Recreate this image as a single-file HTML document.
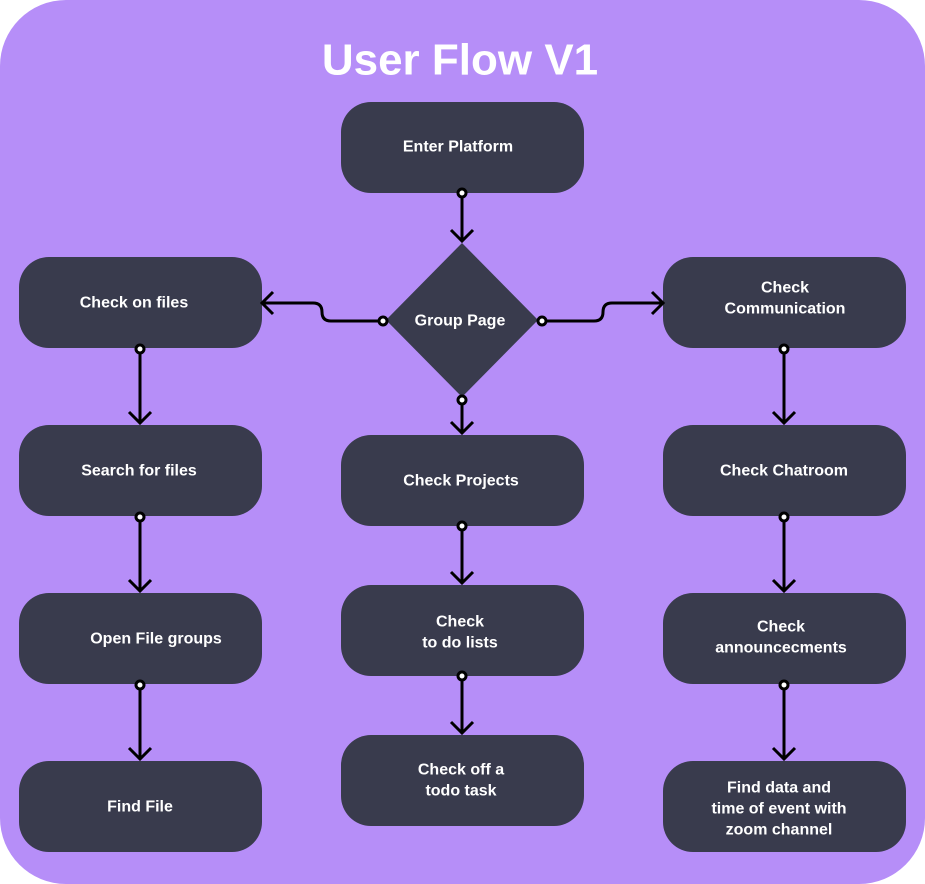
<!DOCTYPE html>
<html><head><meta charset="utf-8"><style>
html,body{margin:0;padding:0;background:#fff;}
svg{display:block;}
text{font-family:"Liberation Sans",sans-serif;font-weight:bold;fill:#fff;font-size:16px;text-anchor:middle;dominant-baseline:central;}
</style></head><body>
<svg width="925" height="884" viewBox="0 0 925 884" xmlns="http://www.w3.org/2000/svg">
<rect x="0" y="0" width="925" height="884" rx="66" fill="#b68ef8"/>
<text x="460" y="60" style="font-size:44px">User Flow V1</text>
<g fill="#393b4d">
<rect x="341" y="102" width="243" height="91" rx="30"/>
<rect x="19" y="257" width="243" height="91" rx="30"/>
<rect x="663" y="257" width="243" height="91" rx="30"/>
<rect x="19" y="425" width="243" height="91" rx="30"/>
<rect x="663" y="425" width="243" height="91" rx="30"/>
<rect x="19" y="593" width="243" height="91" rx="30"/>
<rect x="663" y="593" width="243" height="91" rx="30"/>
<rect x="19" y="761" width="243" height="91" rx="30"/>
<rect x="663" y="761" width="243" height="91" rx="30"/>
<rect x="341" y="435" width="243" height="91" rx="30"/>
<rect x="341" y="585" width="243" height="91" rx="30"/>
<rect x="341" y="735" width="243" height="91" rx="30"/>
<polygon points="462,243 538,320 462,397 386,320"/>
</g>
<g stroke="#000" stroke-width="3" fill="none">
<path d="M462 193V241M451 230L462 241L473 230"/>
<path d="M462 399V433M451 422L462 433L473 422"/>
<path d="M462 526V583M451 572L462 583L473 572"/>
<path d="M462 676V733M451 722L462 733L473 722"/>
<path d="M140 348V423M129 412L140 423L151 412"/>
<path d="M140 516V591M129 580L140 591L151 580"/>
<path d="M140 684V759M129 748L140 759L151 748"/>
<path d="M784 348V423M773 412L784 423L795 412"/>
<path d="M784 516V591M773 580L784 591L795 580"/>
<path d="M784 684V759M773 748L784 759L795 748"/>
<path d="M383 321H331Q322 321 322 312Q322 303 313 303H262M273 292L262 303L273 314"/>
<path d="M542 321H594Q603 321 603 312Q603 303 612 303H663M652 292L663 303L652 314"/>
</g>
<g fill="#fff" stroke="#000" stroke-width="3">
<circle cx="462" cy="193" r="4"/><circle cx="462" cy="400" r="4"/>
<circle cx="462" cy="526" r="4"/><circle cx="462" cy="676" r="4"/>
<circle cx="140" cy="349" r="4"/><circle cx="140" cy="517" r="4"/><circle cx="140" cy="685" r="4"/>
<circle cx="784" cy="349" r="4"/><circle cx="784" cy="517" r="4"/><circle cx="784" cy="685" r="4"/>
<circle cx="383" cy="321" r="4"/><circle cx="542" cy="321" r="4"/>
</g>
<text x="458" y="147">Enter Platform</text>
<text x="134" y="303">Check on files</text>
<text x="460" y="321">Group Page</text>
<text x="785" y="288">Check</text>
<text x="785" y="309">Communication</text>
<text x="139" y="471">Search for files</text>
<text x="461" y="481">Check Projects</text>
<text x="784" y="471">Check Chatroom</text>
<text x="156" y="639">Open File groups</text>
<text x="460" y="622">Check</text>
<text x="460" y="643">to do lists</text>
<text x="781" y="627">Check</text>
<text x="781" y="648">announcecments</text>
<text x="140" y="807">Find File</text>
<text x="461" y="770">Check off a</text>
<text x="461" y="791">todo task</text>
<text x="779" y="788">Find data and</text>
<text x="779" y="809">time of event with</text>
<text x="779" y="830">zoom channel</text>
</svg>
</body></html>
